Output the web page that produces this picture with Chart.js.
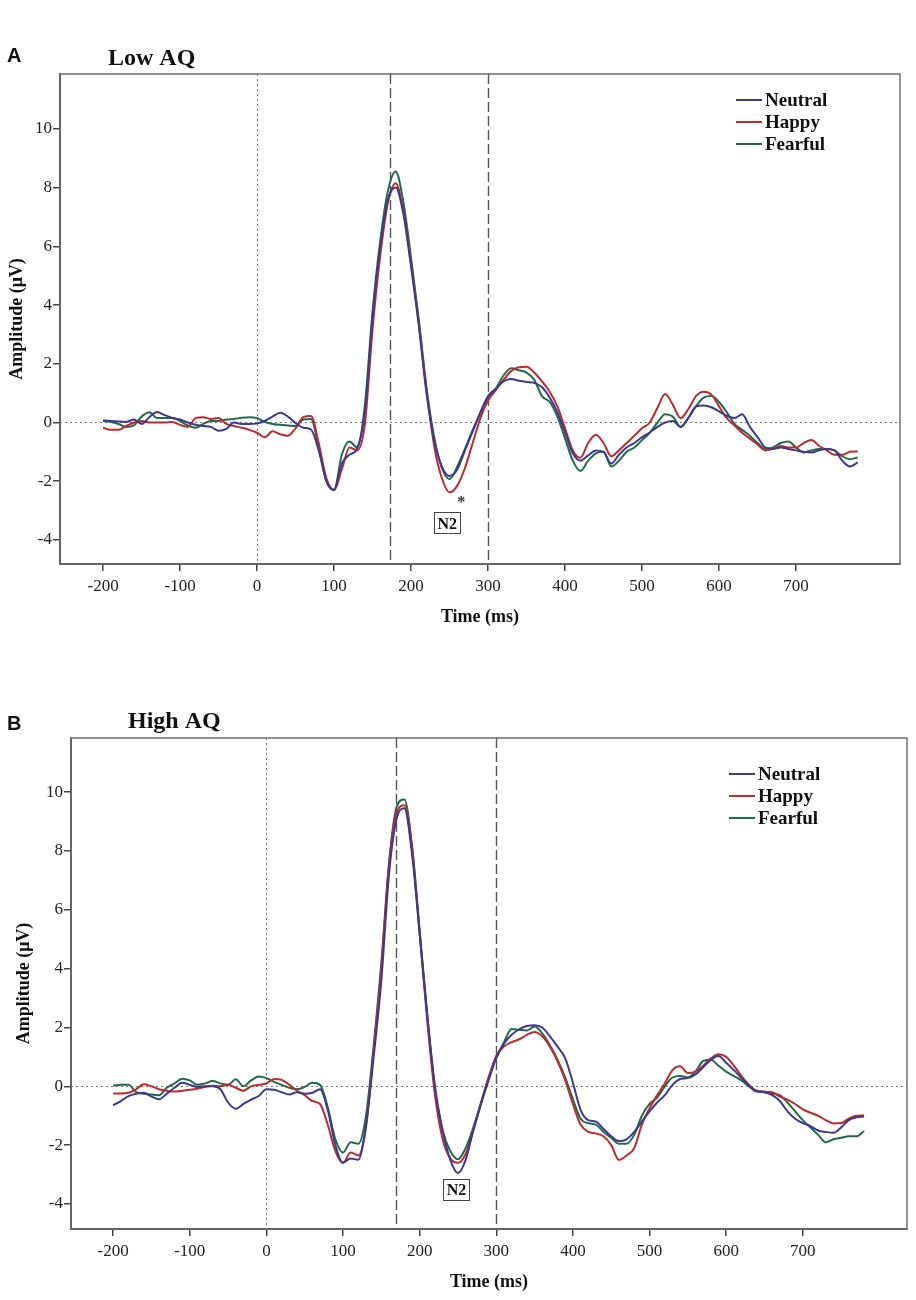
<!DOCTYPE html>
<html>
<head>
<meta charset="utf-8">
<script src="https://cdn.jsdelivr.net/npm/chart.js@4.4.1/dist/chart.umd.min.js"></script>
<style>
  body { margin: 0; background: #fff; }
  #wrap { position: relative; width: 916px; height: 1300px; }
  canvas { position: absolute; left: 0; }
</style>
</head>
<body>
<div id="wrap">
  <canvas id="low" width="916" height="640" style="top:0"></canvas>
  <canvas id="high" width="916" height="660" style="top:640px"></canvas>
</div>
<script>
// sample times (ms)
const times = [
  -200, -190, -180, -170, -160, -150, -140, -130, -120, -110,
  -100, -90, -80, -70, -60, -50, -40, -30, -20, -10,
  0, 10, 20, 30, 40, 50, 60, 70, 80, 90,
  100, 110, 120, 130, 140, 150, 160, 170, 180, 190,
  200, 210, 220, 230, 240, 250, 260, 270, 280, 290,
  300, 310, 320, 330, 340, 350, 360, 370, 380, 390,
  400, 410, 420, 430, 440, 450, 460, 470, 480, 490,
  500, 510, 520, 530, 540, 550, 560, 570, 580, 590,
  600, 610, 620, 630, 640, 650, 660, 670, 680, 690,
  700, 710, 720, 730, 740, 750, 760, 770, 780
];

// Low AQ (uV)
const lowNeutral = [
  0.08, 0.05, 0.03, 0.02, 0.1, -0.05, 0.18, 0.36, 0.25, 0.15,
  0.1, 0.0, -0.08, -0.12, -0.15, -0.28, -0.22, 0.0, -0.05, -0.05,
  -0.03, 0.05, 0.2, 0.33, 0.2, -0.02, -0.18, -0.24, -0.95, -2.0,
  -2.3, -1.4, -1.1, -0.88, 0.35, 3.6, 6.0, 7.6, 8.0, 7.1,
  5.3, 3.3, 1.0, -0.6, -1.5, -1.82, -1.6, -0.95, -0.3, 0.35,
  0.9, 1.15, 1.4, 1.48, 1.42, 1.38, 1.35, 1.2, 0.85, 0.35,
  -0.35, -1.05, -1.3, -1.12, -0.95, -1.0, -1.4, -1.1, -0.85, -0.7,
  -0.5, -0.34, -0.15, 0.0, 0.05, -0.15, 0.15, 0.55, 0.58, 0.52,
  0.38, 0.23, 0.15, 0.28, -0.15, -0.5, -0.85, -0.9, -0.85, -0.9,
  -0.95, -1.0, -1.02, -0.95, -0.9, -0.95, -1.3, -1.5, -1.36
];
const lowHappy = [
  -0.18, -0.25, -0.25, -0.12, 0.0, 0.05, 0.0, 0.0, 0.0, 0.02,
  -0.08, -0.15, 0.15, 0.18, 0.12, 0.15, -0.05, -0.12, -0.18, -0.25,
  -0.35, -0.5, -0.3, -0.4, -0.45, -0.2, 0.18, 0.22, -0.7, -1.9,
  -2.3, -1.6, -0.85, -0.95, -0.05, 3.2, 5.7, 7.5, 8.15, 7.2,
  5.4, 3.4, 1.1, -0.8, -1.9, -2.38, -2.15, -1.55, -0.7, 0.15,
  0.75, 1.1, 1.45, 1.75, 1.88, 1.9, 1.7, 1.4, 1.05, 0.55,
  -0.2, -0.95, -1.2, -0.7, -0.42, -0.7, -1.15, -0.95, -0.7, -0.45,
  -0.2, 0.0, 0.5, 0.97, 0.6, 0.15, 0.45, 0.9, 1.05, 0.95,
  0.55, 0.15, -0.1, -0.35, -0.55, -0.75, -0.95, -0.9, -0.8, -0.85,
  -0.85, -0.7, -0.6, -0.8, -0.95, -1.1, -1.1, -1.0, -0.99
];
const lowFearful = [
  0.05, 0.02, -0.05, -0.15, -0.1, 0.2, 0.35, 0.15, 0.15, 0.15,
  0.05, -0.1, -0.18, -0.05, 0.05, 0.05, 0.1, 0.12, 0.16, 0.18,
  0.15, 0.02, -0.05, -0.08, -0.1, -0.12, 0.1, 0.12, -0.85, -2.0,
  -2.3, -1.1, -0.65, -0.85, 0.6, 3.8, 6.2, 7.9, 8.55, 7.5,
  5.6, 3.5, 1.2, -0.5, -1.55, -1.93, -1.5, -0.9, -0.25, 0.3,
  0.8, 1.15, 1.6, 1.85, 1.78, 1.7, 1.45, 0.9, 0.7, 0.2,
  -0.55, -1.3, -1.65, -1.3, -1.05, -1.0, -1.5, -1.3, -1.0, -0.85,
  -0.6, -0.35, 0.0, 0.28, 0.2, -0.15, 0.15, 0.55, 0.85, 0.9,
  0.7, 0.35, -0.05, -0.25, -0.45, -0.7, -0.9, -0.85, -0.7, -0.65,
  -0.85, -1.02, -0.95, -0.9, -0.9, -0.95, -1.15, -1.25, -1.19
];

// High AQ (uV)
const highNeutral = [
  -0.65, -0.5, -0.33, -0.25, -0.22, -0.35, -0.44, -0.25, -0.05, 0.12,
  0.05, -0.02, 0.0, 0.0, -0.1, -0.55, -0.76, -0.6, -0.45, -0.33,
  -0.1, -0.12, -0.2, -0.28, -0.2, -0.25, -0.22, -0.1, -0.8, -2.0,
  -2.6, -2.45, -2.5, -1.3, 1.0, 3.6, 7.2, 9.1, 9.45, 7.9,
  5.2, 2.4, 0.0, -1.5, -2.5, -2.95, -2.5, -1.5, -0.6, 0.2,
  0.98, 1.45, 1.75, 1.94, 2.05, 2.08, 2.0, 1.7, 1.35, 0.95,
  0.12, -0.8, -1.15, -1.2, -1.45, -1.7, -1.86, -1.8, -1.55, -1.2,
  -0.85, -0.55, -0.3, 0.05, 0.25, 0.28, 0.4, 0.65, 0.9, 1.03,
  0.8, 0.55, 0.28, 0.0, -0.18, -0.2, -0.3, -0.5, -0.85, -1.1,
  -1.25, -1.35, -1.5, -1.55, -1.58, -1.4, -1.15, -1.05, -1.03
];
const highHappy = [
  -0.24, -0.24, -0.22, -0.1, 0.07, 0.0, -0.1, -0.15, -0.18, -0.15,
  -0.12, -0.08, -0.02, 0.02, 0.0, 0.05, -0.05, -0.15, 0.0, 0.05,
  0.1, 0.25, 0.22, 0.05, -0.15, -0.3, -0.5, -0.6, -1.3, -2.2,
  -2.6, -2.25, -2.35, -1.4, 1.2, 4.0, 7.5, 9.3, 9.55, 8.1,
  5.2, 2.2, -0.3, -1.8, -2.45, -2.6, -2.3, -1.5, -0.6, 0.3,
  1.03, 1.35, 1.5, 1.6, 1.75, 1.85, 1.7, 1.35, 0.85, 0.2,
  -0.6, -1.3, -1.55, -1.6, -1.7, -2.0, -2.5, -2.35, -2.1, -1.3,
  -0.75, -0.3, 0.1, 0.55, 0.68, 0.45, 0.5, 0.7, 0.95, 1.09,
  1.0, 0.7, 0.35, 0.05, -0.16, -0.18, -0.2, -0.35, -0.45, -0.6,
  -0.78, -0.9, -1.0, -1.15, -1.26, -1.25, -1.1, -1.0, -0.99
];
const highFearful = [
  0.03, 0.05, 0.05, -0.2, -0.25, -0.28, -0.3, -0.05, 0.1, 0.26,
  0.2, 0.05, 0.1, 0.18, 0.1, 0.05, 0.24, 0.0, 0.2, 0.33,
  0.28, 0.15, 0.05, -0.05, -0.1, -0.02, 0.12, 0.05, -0.7, -1.8,
  -2.25, -1.9, -1.95, -1.0, 1.4, 4.2, 7.6, 9.5, 9.75, 8.2,
  5.3, 2.4, -0.1, -1.5, -2.2, -2.48, -2.1, -1.4, -0.55, 0.3,
  0.95, 1.5, 1.95, 1.92, 1.9, 2.03, 1.8, 1.4, 0.9, 0.3,
  -0.44, -1.1, -1.25, -1.3, -1.55, -1.75, -1.95, -1.95, -1.65, -1.0,
  -0.6, -0.38, 0.0, 0.3, 0.35, 0.3, 0.5, 0.86, 0.9, 0.7,
  0.5, 0.35, 0.2, 0.0, -0.15, -0.2, -0.25, -0.3, -0.55, -0.85,
  -1.15, -1.4, -1.65, -1.9, -1.8, -1.75, -1.7, -1.7, -1.52
];

const seriesNames = ['Neutral', 'Happy', 'Fearful'];
const seriesColors = ['#3c3a8e', '#c2282e', '#1e6c4a'];
const xTicks = [-200, -100, 0, 100, 200, 300, 400, 500, 600, 700];
const yTicks = [-4, -2, 0, 2, 4, 6, 8, 10];

const serif = '"Liberation Serif", "Times New Roman", serif';

// frame, reference lines and all the text bits
const overlay = {
  id: 'overlay',
  beforeDatasetsDraw(chart, args, o) {
    const { ctx, chartArea: a, scales: { x, y } } = chart;
    ctx.save();
    ctx.strokeStyle = '#707070';
    ctx.lineWidth = 1.5;
    ctx.strokeRect(a.left, a.top, a.width, a.height);

    ctx.strokeStyle = '#777';
    ctx.lineWidth = 1;
    ctx.setLineDash([2, 3]);
    ctx.beginPath();
    const y0 = Math.round(y.getPixelForValue(0)) + 0.5;
    ctx.moveTo(a.left, y0); ctx.lineTo(a.right, y0);
    const x0 = Math.round(x.getPixelForValue(0)) + 0.5;
    ctx.moveTo(x0, a.top); ctx.lineTo(x0, a.bottom);
    ctx.stroke();

    ctx.strokeStyle = '#555';
    ctx.lineWidth = 1.4;
    ctx.setLineDash([10, 4]);
    ctx.beginPath();
    o.window.forEach(t => {
      const px = Math.round(x.getPixelForValue(t)) + 0.5;
      ctx.moveTo(px, a.top); ctx.lineTo(px, a.bottom);
    });
    ctx.stroke();
    ctx.restore();
  },
  afterDraw(chart, args, o) {
    const { ctx, chartArea: a, scales: { x, y } } = chart;
    ctx.save();
    ctx.fillStyle = '#111';

    ctx.font = 'bold 20px "Liberation Sans", Arial, sans-serif';
    ctx.textBaseline = 'alphabetic';
    ctx.textAlign = 'left';
    ctx.fillText(o.letter, 7, o.letterY);

    ctx.font = 'bold 24px ' + serif;
    ctx.fillText(o.title, o.titleX, o.titleY);

    // axis titles
    ctx.font = 'bold 18px ' + serif;
    ctx.textAlign = 'center';
    ctx.textBaseline = 'middle';
    ctx.fillText('Time (ms)', (a.left + a.right) / 2, a.bottom + 53);
    ctx.save();
    ctx.translate(o.yTitleX, (a.top + a.bottom) / 2);
    ctx.rotate(-Math.PI / 2);
    ctx.fillText('Amplitude (\u03bcV)', 0, 0);
    ctx.restore();

    // legend
    ctx.textAlign = 'left';
    ctx.font = 'bold 19px ' + serif;
    seriesNames.forEach((name, i) => {
      const ly = o.legend.y + i * 22;
      ctx.strokeStyle = seriesColors[i];
      ctx.lineWidth = 2;
      ctx.beginPath();
      ctx.moveTo(o.legend.x, ly); ctx.lineTo(o.legend.x + 26, ly);
      ctx.stroke();
      ctx.fillStyle = '#111';
      ctx.fillText(name, o.legend.x + 29, ly + 1);
    });

    // N2 label
    const nx = x.getPixelForValue(o.n2[0]);
    const ny = y.getPixelForValue(o.n2[1]);
    ctx.strokeStyle = '#444';
    ctx.lineWidth = 1;
    ctx.strokeRect(Math.round(nx - 13) + 0.5, Math.round(ny - 11) + 0.5, 26, 21);
    ctx.textAlign = 'center';
    ctx.font = 'bold 16px ' + serif;
    ctx.fillText('N2', nx, ny + 1);

    if (o.star) {
      ctx.font = 'bold 16px ' + serif;
      ctx.fillStyle = '#333';
      ctx.fillText('*', x.getPixelForValue(o.star[0]), y.getPixelForValue(o.star[1]) + 4);
    }
    ctx.restore();
  }
};

function makePanel(id, data, cfg) {
  const datasets = data.map((vals, i) => ({
    label: seriesNames[i],
    data: vals.map((v, k) => ({ x: times[k], y: v })),
    borderColor: seriesColors[i],
    borderWidth: 2,
    pointRadius: 0,
    cubicInterpolationMode: 'monotone',
    fill: false
  }));

  const tickFont = { family: serif, size: 17 };

  new Chart(document.getElementById(id), {
    type: 'line',
    data: { datasets },
    plugins: [overlay],
    options: {
      responsive: false,
      animation: false,
      layout: { padding: cfg.padding },
      plugins: {
        legend: { display: false },
        tooltip: { enabled: false },
        overlay: cfg.overlay
      },
      scales: {
        x: {
          type: 'linear',
          min: cfg.xMin,
          max: cfg.xMax,
          afterBuildTicks: s => { s.ticks = xTicks.map(v => ({ value: v })); },
          afterFit: s => { s.height = cfg.xHeight; },
          ticks: {
            font: tickFont, color: '#222', padding: 5,
            maxRotation: 0, autoSkip: false,
            callback: v => String(v)
          },
          grid: { drawOnChartArea: false, drawTicks: true, tickLength: 7, color: '#444', lineWidth: 1.5 },
          border: { color: '#444', width: 2 }
        },
        y: {
          type: 'linear',
          min: cfg.yMin,
          max: cfg.yMax,
          afterBuildTicks: s => { s.ticks = yTicks.map(v => ({ value: v })); },
          afterFit: s => { s.width = cfg.yWidth; },
          ticks: {
            font: tickFont, color: '#222', padding: 1,
            callback: v => String(v)
          },
          grid: { drawOnChartArea: false, drawTicks: true, tickLength: 7, color: '#444', lineWidth: 1.5 },
          border: { color: '#444', width: 2 }
        }
      }
    }
  });
}

makePanel('low', [lowNeutral, lowHappy, lowFearful], {
  padding: { left: 0, top: 74, right: 16, bottom: 0 },
  yWidth: 60, xHeight: 76,
  xMin: -256, xMax: 835, yMin: -4.82, yMax: 11.87,
  overlay: {
    letter: 'A', letterY: 62,
    title: 'Low AQ', titleX: 108, titleY: 65,
    yTitleX: 17,
    window: [173, 300],
    legend: { x: 736, y: 100 },
    n2: [247, -3.44],
    star: [265, -2.6]
  }
});

makePanel('high', [highNeutral, highHappy, highFearful], {
  padding: { left: 0, top: 98, right: 9, bottom: 0 },
  yWidth: 71, xHeight: 71,
  xMin: -255, xMax: 836, yMin: -4.85, yMax: 11.84,
  overlay: {
    letter: 'B', letterY: 90,
    title: 'High AQ', titleX: 128, titleY: 88,
    yTitleX: 24,
    window: [169.5, 300],
    legend: { x: 729, y: 134 },
    n2: [248, -3.52],
    star: null
  }
});
</script>
</body>
</html>
